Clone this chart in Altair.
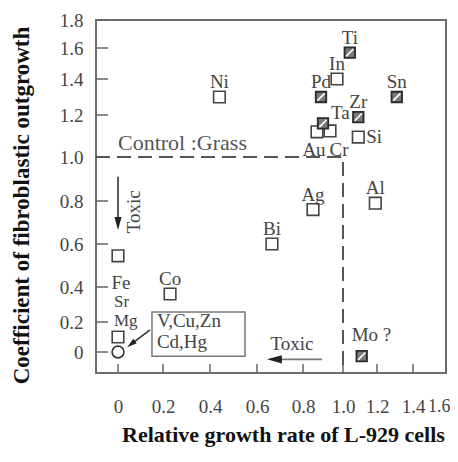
import altair as alt
import pandas as pd

# ---- data ----
elements = ["Ti", "In", "Pd", "Ni", "Sn", "Zr", "Cr", "Au", "Ta", "Si",
            "Ag", "Al", "Bi", "Co", "Fe", "Sr\nMg", "Mo ?"]
growth = [1.04, 0.97, 0.89, 0.44, 1.31, 1.09, 0.935, 0.87, 0.90, 1.09,
          0.85, 1.19, 0.665, 0.23, 0.0, 0.0, 1.11]
outgrowth = [1.57, 1.40, 1.30, 1.30, 1.30, 1.19, 1.124, 1.12, 1.16, 1.095,
             0.76, 0.79, 0.60, 0.36, 0.545, 0.10, -0.02]
marker = ["hatched", "open", "hatched", "open", "hatched", "hatched", "open", "open",
          "hatched", "open", "open", "open", "open", "open", "open", "open", "hatched"]
label_side = ["n", "n", "n", "n", "n", "n", "s_r", "s_l", "ne", "e",
              "n", "n", "n", "n", "s_far", "n_stack", "n_left"]

toxic_metals_x = [0.0]
toxic_metals_y = [0.0]

control_level = 1.0
tick_x = [0, 0.2, 0.4, 0.6, 0.8, 1.0, 1.2, 1.4, 1.6]
tick_y = [0, 0.2, 0.4, 0.6, 0.8, 1.0, 1.2, 1.4, 1.6, 1.8]
x_min, y_min = -0.1, -0.1

FONT = "Liberation Serif"
TXT = "#444444"

df = pd.DataFrame({"el": elements, "x": growth, "y": outgrowth,
                   "marker": marker, "side": label_side})

# piecewise scales following the (unevenly spaced) axes of the original figure
xs = alt.Scale(domain=[x_min] + tick_x,
               range=[0, 22, 67, 114, 161, 207, 247, 281, 317, 350])
ys = alt.Scale(domain=[y_min] + tick_y,
               range=[353, 332, 302, 267, 224, 181, 137, 95, 59, 28, 0])
lab_expr = "datum.value == 0 ? '0' : format(datum.value, '.1f')"
last_x = "datum.value > 1.55"

x_axis = alt.Axis(values=tick_x, labelExpr=lab_expr, ticks=False, domain=False, grid=False,
                  labelFont=FONT, labelColor=TXT, labelPadding=24,
                  labelFontSize={"condition": {"test": last_x, "value": 18}, "value": 19},
                  labelAlign={"condition": {"test": last_x, "value": "right"},
                              "value": "center"},
                  labelOffset={"condition": {"test": last_x, "value": 4}, "value": 0},
                  labelFlush=False, labelOverlap=False, labelBound=False,
                  title="Relative growth rate of L-929 cells", titleFont=FONT,
                  titleFontSize=22, titleFontWeight="bold", titleColor="#111111",
                  titlePadding=8, titleX=187)
y_axis = alt.Axis(values=tick_y, labelExpr=lab_expr, ticks=False, domain=False, grid=False,
                  labelFont=FONT, labelFontSize=19, labelColor=TXT, labelPadding=13,
                  labelFlush=False, labelOverlap=False, labelBound=False,
                  title="Coefficient of fibroblastic outgrowth", titleFont=FONT,
                  titleFontSize=23, titleFontWeight="bold", titleColor="#111111",
                  titlePadding=26, titleY=185)


def X(f):
    return alt.X(f, scale=xs, axis=x_axis)


def Y(f):
    return alt.Y(f, scale=ys, axis=y_axis)


# ticks drawn inward
xt = alt.Chart(pd.DataFrame({"t": tick_x})).mark_rule(color="#666666", strokeWidth=1.5).encode(
    x=X("t:Q"), y=alt.value(353), y2=alt.value(344))
yt = alt.Chart(pd.DataFrame({"t": tick_y})).mark_rule(color="#666666", strokeWidth=1.5).encode(
    y=Y("t:Q"), x=alt.value(0), x2=alt.value(12))

# dashed control lines
ctrl = pd.DataFrame({"x": [x_min, control_level, control_level],
                     "y": [control_level, control_level, y_min],
                     "o": [0, 1, 2]})
dash = alt.Chart(ctrl).mark_line(strokeDash=[14, 7], color="#555555", strokeWidth=2).encode(
    x=X("x:Q"), y=Y("y:Q"), order="o:Q")

# annotation arrows
arrows = pd.DataFrame({"x": [0.0, 0.895, 0.142], "x2": [0.0, 0.68, 0.062],
                       "y": [0.91, -0.035, 0.147], "y2": [0.70, -0.035, 0.056],
                       "c": ["#333333", "#777777", "#333333"]})
arrow_lines = alt.Chart(arrows).mark_rule(strokeWidth=1.6).encode(
    x=X("x:Q"), x2="x2:Q", y=Y("y:Q"), y2="y2:Q",
    color=alt.Color("c:N", scale=None))
heads = pd.DataFrame({"x": [0.0, 0.676, 0.058], "y": [0.695, -0.035, 0.053],
                      "a": [0, 90, 52], "s": [169, 220, 100]})
arrow_heads = alt.Chart(heads).mark_point(
    shape="M -0.55 -1 L 0.55 -1 L 0 1 Z", filled=True, color="#222222", opacity=1).encode(
    x=X("x:Q"), y=Y("y:Q"),
    angle=alt.Angle("a:Q", scale=None), size=alt.Size("s:Q", scale=None))

# box for V,Cu,Zn,Cd,Hg
box = alt.Chart(pd.DataFrame({"x": [0.151], "x2": [0.549], "y": [-0.02], "y2": [0.257]})).mark_rect(
    fill="white", fillOpacity=0, stroke="#777777", strokeWidth=1.5).encode(
    x=X("x:Q"), x2="x2:Q", y=Y("y:Q"), y2="y2:Q")
box_text = alt.Chart(pd.DataFrame({"t": ["V,Cu,Zn", "Cd,Hg"], "x": [0.173, 0.173],
                                   "y": [0.167, 0.027]})).mark_text(
    align="left", baseline="alphabetic", font=FONT, fontSize=19, color=TXT).encode(
    x=X("x:Q"), y=Y("y:Q"), text="t:N")

# points
open_sq = alt.Chart(df).transform_filter(alt.datum.marker == "open").mark_point(
    shape="square", filled=True, fill="white", stroke="#444444", strokeWidth=1.6,
    size=135, opacity=1).encode(x=X("x:Q"), y=Y("y:Q"))
hatch_sq = alt.Chart(df).transform_filter(alt.datum.marker == "hatched").mark_point(
    shape="square", filled=True, fill="#7a7a7a", stroke="#2a2a2a", strokeWidth=1.8,
    size=110, opacity=1).encode(x=X("x:Q"), y=Y("y:Q"))
hatch_line = alt.Chart(df).transform_filter(alt.datum.marker == "hatched").mark_point(
    shape="M -0.7 0.7 L 0.7 -0.7", filled=False, stroke="white", strokeWidth=1.6,
    size=110, opacity=1).encode(x=X("x:Q"), y=Y("y:Q"))
circ = alt.Chart(pd.DataFrame({"x": toxic_metals_x, "y": toxic_metals_y})).mark_point(
    shape="circle", filled=True, fill="white", stroke="#333333", strokeWidth=1.6,
    size=140, opacity=1).encode(x=X("x:Q"), y=Y("y:Q"))


# labels
def lab(side, size=19, lh=17, **kw):
    return alt.Chart(df).transform_filter(alt.datum.side == side).mark_text(
        font=FONT, fontSize=size, color=TXT, lineBreak="\n", lineHeight=lh, **kw).encode(
        x=X("x:Q"), y=Y("y:Q"), text="el:N")


labels = [
    lab("n", align="center", baseline="bottom", dy=-5),
    lab("s_l", align="center", baseline="top", dx=-3, dy=9),
    lab("s_r", align="center", baseline="top", dx=9, dy=10),
    lab("s_far", align="center", baseline="top", dx=3, dy=18),
    lab("e", align="left", baseline="middle", dx=8),
    lab("ne", align="left", baseline="alphabetic", dx=8, dy=-4),
    lab("n_left", align="left", baseline="alphabetic", dx=-10, dy=-15),
    lab("n_stack", size=17, lh=19, align="left", baseline="alphabetic", dx=-4, dy=-30),
]

ann = pd.DataFrame({"t": ["Control :Grass"], "x": [0.0], "y": [1.033]})
ctrl_text = alt.Chart(ann).mark_text(align="left", baseline="alphabetic", font=FONT,
                                     fontSize=22, color="#555555").encode(
    x=X("x:Q"), y=Y("y:Q"), text="t:N")
tox_v = alt.Chart(pd.DataFrame({"t": ["Toxic"], "x": [0.07], "y": [0.75]})).mark_text(
    align="center", baseline="middle", angle=270, font=FONT, fontSize=19, color=TXT).encode(
    x=X("x:Q"), y=Y("y:Q"), text="t:N")
tox_h = alt.Chart(pd.DataFrame({"t": ["Toxic"], "x": [0.752], "y": [0.015]})).mark_text(
    align="center", baseline="alphabetic", font=FONT, fontSize=19, color=TXT).encode(
    x=X("x:Q"), y=Y("y:Q"), text="t:N")

chart = alt.layer(
    open_sq, xt, yt, dash, box, box_text, arrow_lines, arrow_heads,
    hatch_sq, hatch_line, circ, *labels, ctrl_text, tox_v, tox_h
).properties(
    width=350, height=353,
    autosize=alt.AutoSizeParams(type="none"),
    padding={"left": 88, "top": 12, "right": 4, "bottom": 80},
).configure_view(stroke="#6e6e6e", strokeWidth=2)

chart.save("out.html", embed_options={"renderer": "svg", "actions": False})
